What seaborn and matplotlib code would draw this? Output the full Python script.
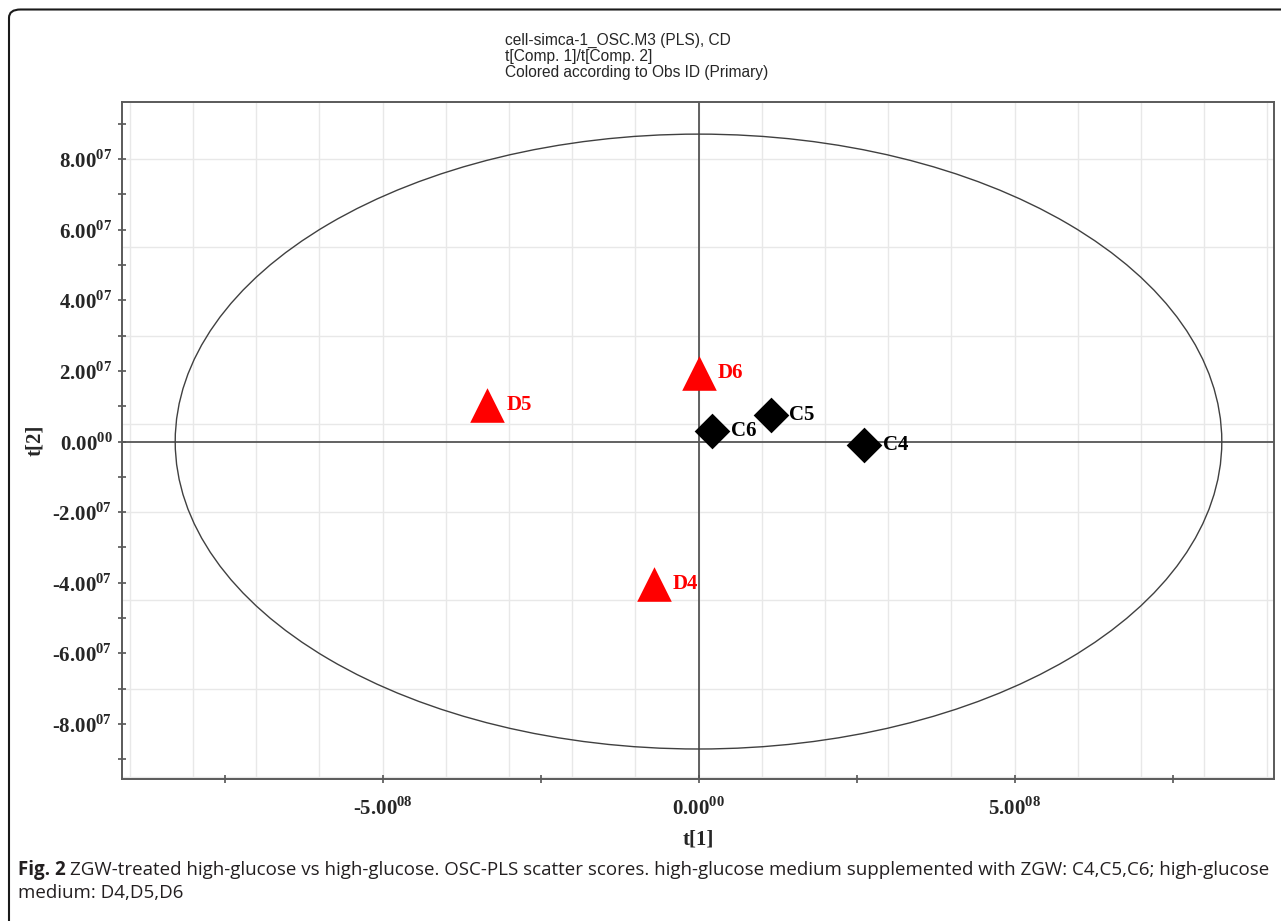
import numpy as np
import pandas as pd
import matplotlib
matplotlib.use("Agg")
import matplotlib.pyplot as plt
from matplotlib.patches import Ellipse, FancyBboxPatch
from matplotlib.ticker import MultipleLocator, FuncFormatter
import seaborn as sns

# OSC-PLS scores, component 1 (t[1]) and component 2 (t[2])
obs_id = ["C4", "C5", "C6", "D4", "D5", "D6"]
group = ["ZGW", "ZGW", "ZGW", "HG", "HG", "HG"]
t1 = [2.62e8, 1.14e8, 0.21e8, -0.70e8, -3.34e8, 0.01e8]
t2 = [-0.09e7, 0.76e7, 0.29e7, -4.03e7, 1.04e7, 1.95e7]

# Hotelling T2 (95%) ellipse semi-axes
ellipse_a = 8.28e8
ellipse_b = 8.71e7

title_lines = ["cell-simca-1_OSC.M3 (PLS), CD",
               "t[Comp. 1]/t[Comp. 2]",
               "Colored according to Obs ID (Primary)"]
caption_bold = "Fig. 2"
caption_line1 = ("ZGW-treated high-glucose vs high-glucose. OSC-PLS scatter scores. "
                 "high-glucose medium supplemented with ZGW: C4,C5,C6; high-glucose")
caption_line2 = "medium: D4,D5,D6"

df = pd.DataFrame({"obs": obs_id, "group": group, "t1": t1, "t2": t2})

sns.set_style("white")
plt.rcParams["font.family"] = ["Liberation Serif", "DejaVu Serif"]
plt.rcParams["mathtext.fontset"] = "custom"
plt.rcParams["mathtext.bf"] = "Liberation Serif:bold"
plt.rcParams["mathtext.rm"] = "Liberation Serif"
plt.rcParams["axes.unicode_minus"] = False

W, H = 1281, 921
fig = plt.figure(figsize=(W / 100, H / 100), dpi=100)
ax = fig.add_axes([122 / W, 1 - 779 / H, (1274 - 122) / W, (779 - 102) / H])

xlim = (-9.122e8, 9.106e8)
ylim = (-9.56e7, 9.62e7)
ax.set_xlim(*xlim)
ax.set_ylim(*ylim)

# light background grid
grid_kw = dict(color="#e8e8e8", lw=1.0, zorder=0)
ax.vlines(np.arange(-9e8, 9.5e8, 1e8), *ylim, **grid_kw)
ax.hlines(np.arange(-9.5e7, 9.6e7, 2.5e7), *xlim, **grid_kw)

axis_col = "#555555"
ax.axhline(0, color=axis_col, lw=1.3, zorder=1)
ax.axvline(0, color=axis_col, lw=1.3, zorder=1)

ax.add_patch(Ellipse((0, 0), 2 * ellipse_a, 2 * ellipse_b, fill=False,
                     edgecolor="#404040", lw=1.0, zorder=2))

hg = df[df["group"] == "HG"]
zgw = df[df["group"] == "ZGW"]
sns.scatterplot(data=hg, x="t1", y="t2", marker="^", s=620, color="#ff0000",
                linewidth=0, ax=ax, zorder=3, legend=False)
sns.scatterplot(data=zgw, x="t1", y="t2", marker="D", s=330, color="black",
                linewidth=0, ax=ax, zorder=3, legend=False)

for _, r in df.iterrows():
    col = "#ff0000" if r["group"] == "HG" else "black"
    ax.annotate(r["obs"], (r["t1"], r["t2"]), xytext=(13.5, 0),
                textcoords="offset points", ha="left", va="center",
                fontsize=15, fontweight="bold", color=col, zorder=4)


def simca_fmt(v, labelled):
    if not labelled:
        return ""
    if v == 0:
        mant, exp = 0.0, 0
    else:
        exp = int(np.floor(np.log10(abs(v))))
        mant = abs(v) / 10 ** exp
    sign = "-" if v < 0 else ""
    return sign + r"$\mathbf{%.2f}^{\mathbf{%02d}}$" % (mant, exp)


x_labelled = {-5e8, 0.0, 5e8}
ax.xaxis.set_major_locator(MultipleLocator(2.5e8))
ax.xaxis.set_major_formatter(FuncFormatter(
    lambda v, p: simca_fmt(v, any(abs(v - q) < 1e3 for q in x_labelled))))
ax.yaxis.set_major_locator(MultipleLocator(2e7))
ax.yaxis.set_minor_locator(MultipleLocator(1e7))
ax.yaxis.set_major_formatter(FuncFormatter(lambda v, p: simca_fmt(v, True)))

ax.tick_params(axis="both", which="both", direction="inout", color=axis_col,
               width=1.2, labelsize=15)
ax.tick_params(axis="x", which="major", length=6, pad=10, bottom=True)
ax.tick_params(axis="y", which="major", length=6, pad=4, left=True)
ax.tick_params(axis="y", which="minor", length=6, left=True)
for lab in ax.get_xticklabels() + ax.get_yticklabels():
    lab.set_fontweight("bold")

for s in ax.spines.values():
    s.set_color("#5a5a5a")
    s.set_linewidth(1.4)

ax.set_xlabel("t[1]", fontsize=15, fontweight="bold", labelpad=7)
ax.set_ylabel("t[2]", fontsize=15, fontweight="bold", labelpad=5)

for i, line in enumerate(title_lines):
    fig.text(505 / W, 1 - (40 + 16.5 * i) / H, line, ha="left", va="center",
             fontsize=11.2, family=["Liberation Sans", "DejaVu Sans"])

cap_kw = dict(fontsize=13.5, family=["Open Sans", "DejaVu Sans"], color="#231f20")
t_bold = fig.text(18 / W, 1 - 870 / H, caption_bold, ha="left", va="center",
                  fontweight="bold", **cap_kw)
plt.annotate(caption_line1, xy=(1, 0.5), xycoords=t_bold,
             xytext=(3.2, 0), textcoords="offset points",
             ha="left", va="center", annotation_clip=False, **cap_kw)
fig.text(18 / W, 1 - 893 / H, caption_line2, ha="left", va="center", **cap_kw)

# rounded panel border
fig.patches.append(FancyBboxPatch((9 / W, -0.05), (W + 40) / W, 1.05 - 9.5 / H,
                                  boxstyle="round,pad=0,rounding_size=0.009",
                                  transform=fig.transFigure, fill=False,
                                  edgecolor="#1a1a1a", lw=1.5))

fig.savefig("out.png", dpi=100)
